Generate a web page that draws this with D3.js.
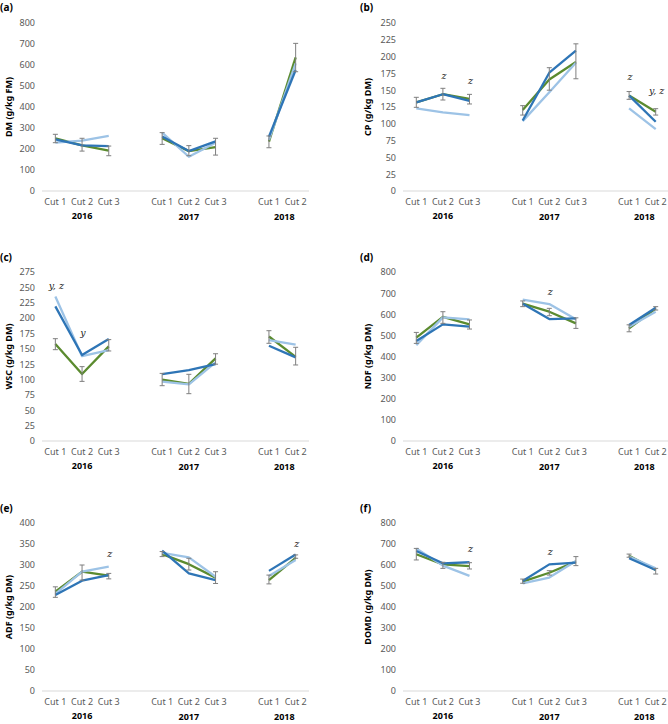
<!DOCTYPE html>
<html><head><meta charset="utf-8">
<script src="https://cdn.jsdelivr.net/npm/d3@7"></script>
<style>body{margin:0;background:#fff}svg{display:block}</style>
</head><body>
<svg id="chart" width="668" height="724"></svg>
<script>
// ---- categories ----
const years = ["2016", "2017", "2018"];
const categories = ["2016|Cut 1","2016|Cut 2","2016|Cut 3","2017|Cut 1","2017|Cut 2","2017|Cut 3","2018|Cut 1","2018|Cut 2"];
const slots = ["2016|Cut 1","2016|Cut 2","2016|Cut 3","gap1","2017|Cut 1","2017|Cut 2","2017|Cut 3","gap2","2018|Cut 1","2018|Cut 2"];

// ---- (a) DM ----
const dmGreen = [251, 217, 192, 251, 190, 209, 235, 636];
const dmDark  = [246, 217, 214, 259, 190, 236, 259, 576];
const dmLight = [230, 240, 263, 278, 163, 230, 243, 608];
const dmErrLow  = [230, 190, 168, 222, 168, 171, 206, 568];
const dmErrHigh = [270, 251, 214, 278, 216, 251, 262, 703];
const dmTicks = [0,100,200,300,400,500,600,700,800];

// ---- (b) CP ----
const cpGreen = [132, 144, 137, 120.5, 166, 192, 142, 118];
const cpDark  = [132, 144, 134, 105, 176, 209, 142, 103];
const cpLight = [123, 117, 113, 104, 147, 191, 123, 92];
const cpErrLow  = [124.5, 135.4, 129.5, 113, 150, 167, 136.4, 113];
const cpErrHigh = [139.4, 152.8, 143.8, 127, 183.5, 219, 148, 122.5];
const cpTicks = [0,25,50,75,100,125,150,175,200,225,250];

// ---- (c) WSC ----
const wscGreen = [158, 109, 154, 100, 93, 134.5, 170, 137];
const wscDark  = [219, 140, 166, 109, 115.5, 125, 155, 136];
const wscLight = [235, 138, 148, 96.5, 92, 128, 164, 157];
const wscErrLow  = [148.6, 97, 146.5, 90, 77, 125, 159, 123.7];
const wscErrHigh = [166.5, 121, 165, 110, 108.5, 142, 179.5, 152.5];
const wscTicks = [0,25,50,75,100,125,150,175,200,225,250,275];

// ---- (d) NDF ----
const ndfGreen = [489, 588, 552, 650, 612, 557, 533, 627];
const ndfDark  = [473, 552, 541, 650, 577, 580, 549, 631];
const ndfLight = [454, 585, 576, 669, 648, 576, 541, 612];
const ndfErrLow  = [462, 557, 530, 636, 593, 533, 517, 620];
const ndfErrHigh = [514, 612, 573, 663, 628, 583, 550, 636];
const ndfTicks = [0,100,200,300,400,500,600,700,800];

// ---- (e) ADF ----
const adfGreen = [236.5, 284, 274.6, 326, 302, 270, 264, 317];
const adfDark  = [228.6, 262.7, 276, 334, 280, 264, 286, 325];
const adfLight = [231, 284, 296, 329, 318, 272, 274, 312];
const adfErrLow  = [223, 264, 267, 320, 288, 256, 255, 316];
const adfErrHigh = [248, 300, 280, 332, 316, 284, 276, 324];
const adfTicks = [0,50,100,150,200,250,300,350,400];

// ---- (f) DOMD ----
const domdGreen = [651, 603, 595, 521, 563, 616, 644, 576];
const domdDark  = [667, 608, 613, 524, 603, 611, 632, 576];
const domdLight = [679, 597, 548, 513, 540, 619, 640, 584];
const domdErrLow  = [624, 584, 581, 513, 552, 597, 637, 557];
const domdErrHigh = [679, 613, 611, 533, 573, 640, 652, 584];
const domdTicks = [0,100,200,300,400,500,600,700,800];

// ---- significance annotations: [category index, text, value height] ----
const cpNotes   = [[1,"z",171],[2,"z",164],[6,"z",169],[7,"y, z",148]];
const wscNotes  = [[0,"y, z",252],[1,"y",176]];
const ndfNotes  = [[4,"z",704]];
const adfNotes  = [[2,"z",325],[7,"z",349]];
const domdNotes = [[2,"z",675],[4,"z",660]];

const colors = {green:"#5b8b2f", dark:"#2e75b6", light:"#9dc3e6", err:"#7f7f7f", axis:"#d9d9d9", tick:"#595959"};

const panels = [
  {tag:"(a)", title:"DM (g/kg FM)",  col:0, row:0, ticks:dmTicks,  green:dmGreen,  dark:dmDark,  light:dmLight,  lo:dmErrLow,  hi:dmErrHigh,  notes:[]},
  {tag:"(b)", title:"CP (g/kg DM)",  col:1, row:0, ticks:cpTicks,  green:cpGreen,  dark:cpDark,  light:cpLight,  lo:cpErrLow,  hi:cpErrHigh,  notes:cpNotes},
  {tag:"(c)", title:"WSC (g/kg DM)", col:0, row:1, ticks:wscTicks, green:wscGreen, dark:wscDark, light:wscLight, lo:wscErrLow, hi:wscErrHigh, notes:wscNotes},
  {tag:"(d)", title:"NDF (g/kg DM)", col:1, row:1, ticks:ndfTicks, green:ndfGreen, dark:ndfDark, light:ndfLight, lo:ndfErrLow, hi:ndfErrHigh, notes:ndfNotes},
  {tag:"(e)", title:"ADF (g/kg DM)", col:0, row:2, ticks:adfTicks, green:adfGreen, dark:adfDark, light:adfLight, lo:adfErrLow, hi:adfErrHigh, notes:adfNotes},
  {tag:"(f)", title:"DOMD (g/kg DM)",col:1, row:2, ticks:domdTicks,green:domdGreen,dark:domdDark,light:domdLight,lo:domdErrLow,hi:domdErrHigh,notes:domdNotes}
];

const colX = [{x0:42, x1:309, tagX:0, titleX:9}, {x0:403, x1:669, tagX:360, titleX:368}];
const rowY = [{top:23, bottom:191, tagY:7}, {top:272, bottom:441, tagY:257}, {top:523, bottom:691, tagY:508}];

const svg = d3.select("#chart");
const font = "'Noto Sans', 'Open Sans', sans-serif";

panels.forEach(p => {
  const c = colX[p.col], r = rowY[p.row];
  const g = svg.append("g");
  const x = d3.scaleBand().domain(slots).range([c.x0, c.x1]).padding(0);
  const cx = k => x(k) + x.bandwidth() / 2;
  const y = d3.scaleLinear().domain([0, d3.max(p.ticks)]).range([r.bottom, r.top]);

  // y axis (labels only)
  const ya = g.append("g").attr("transform", `translate(${c.x0},0)`)
    .call(d3.axisLeft(y).tickValues(p.ticks).tickSize(0).tickPadding(7));
  ya.select(".domain").remove();
  ya.selectAll("text").attr("fill", colors.tick).style("font-family", font).style("font-size", "9px");

  // baseline
  g.append("line").attr("x1", c.x0).attr("x2", c.x1).attr("y1", y(0)).attr("y2", y(0))
    .attr("stroke", colors.axis).attr("stroke-width", 1.2);

  // x labels
  const xa = g.append("g").attr("transform", `translate(0,${r.bottom})`)
    .call(d3.axisBottom(x).tickSize(0).tickPadding(8).tickFormat(k => k.startsWith("gap") ? "" : k.split("|")[1]));
  xa.select(".domain").remove();
  xa.selectAll("text").attr("fill", colors.tick).style("font-family", font).style("font-size", "9px");

  // year labels
  years.forEach((yr, i) => {
    const ks = categories.filter(k => k.startsWith(yr));
    const mx = d3.mean(ks, cx) + (i === 2 ? 2 : 0);
    g.append("text").attr("x", mx).attr("y", r.bottom + 28 + i * 0.6)
      .attr("text-anchor", "middle").style("font-family", font).style("font-size", "9px")
      .style("font-weight", "bold").attr("fill", "#000").text(yr);
  });

  // axis title
  g.append("text").attr("transform", `translate(${c.titleX + 3},${(r.top + r.bottom) / 2}) rotate(-90)`)
    .attr("text-anchor", "middle").style("font-family", font).style("font-size", "9px")
    .style("font-weight", "bold").attr("fill", "#000").text(p.title);

  // panel tag
  g.append("text").attr("x", c.tagX).attr("y", r.tagY + 4).style("font-family", font)
    .style("font-size", "10px").style("font-weight", "bold").attr("fill", "#000").text(p.tag);

  // lines per year segment
  const line = d3.line().x(d => cx(d.k)).y(d => y(d.v));
  const series = [[p.green, colors.green], [p.light, colors.light], [p.dark, colors.dark]];
  series.forEach(([vals, col]) => {
    years.forEach(yr => {
      const pts = categories.map((k, i) => ({k, v: vals[i]})).filter(d => d.k.startsWith(yr));
      g.append("path").datum(pts).attr("d", line).attr("fill", "none")
        .attr("stroke", col).attr("stroke-width", 2.3).attr("stroke-linejoin", "round");
    });
  });

  // error bars
  categories.forEach((k, i) => {
    const xx = cx(k);
    g.append("line").attr("x1", xx).attr("x2", xx).attr("y1", y(p.lo[i])).attr("y2", y(p.hi[i]))
      .attr("stroke", colors.err).attr("stroke-width", 1);
    [p.lo[i], p.hi[i]].forEach(v => {
      g.append("line").attr("x1", xx - 2.5).attr("x2", xx + 2.5).attr("y1", y(v)).attr("y2", y(v))
        .attr("stroke", colors.err).attr("stroke-width", 1);
    });
  });

  // annotations
  p.notes.forEach(([i, t, v]) => {
    g.append("text").attr("x", cx(categories[i]) + 1).attr("y", y(v)).attr("dy", "0.3em")
      .attr("text-anchor", "middle").style("font-family", "'DejaVu Serif', serif")
      .style("font-style", "italic").style("font-size", "9.5px").attr("fill", "#222").text(t);
  });
});
</script>
</body></html>
